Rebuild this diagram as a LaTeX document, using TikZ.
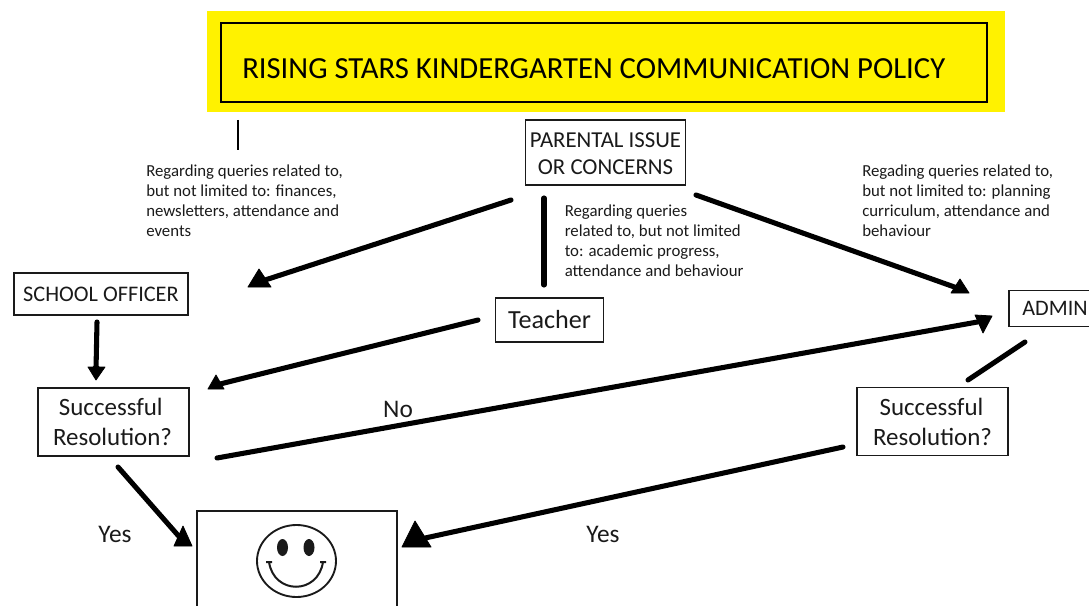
\documentclass[tikz,border=0pt]{standalone}
\usepackage{fontspec}
\setmainfont{Carlito}
\usetikzlibrary{arrows.meta}
\definecolor{banner}{HTML}{FFF200}
\definecolor{ink}{HTML}{1A1A1A}
\newcommand{\fs}[2]{\fontsize{#1}{#2}\selectfont}
\tikzset{
  x=0.75pt,y=-0.75pt,
  boxed/.style={draw=ink,line width=1.4pt,fill=white,inner sep=0pt,align=center,text=ink},
  note/.style={anchor=north west,inner sep=0pt,align=left,text=ink,font=\fs{12.6}{15}},
  lab/.style={inner sep=0pt,text=ink,font=\fs{19}{22}},
  link/.style={line width=3.8pt,line cap=round,black},
  arrowlink/.style={link,-{Triangle[length=3pt,width=5pt]}},
  head/.style={fill=black,draw=black,line width=0.6pt,line join=round}
}
\begin{document}
\begin{tikzpicture}
\useasboundingbox (0,0) rectangle (1089,606);
\clip (0,0) rectangle (1089,606);
% banner
\fill[banner] (207,11) rectangle (1005,112);
\node[draw=black,line width=1.5pt,minimum width=575pt,minimum height=59pt,inner sep=0pt] (titlebox) at (604,62.5) {};
\node[anchor=base west,inner sep=0pt,text=black,font=\fs{23}{26}] (titletext) at (242,78.5) {RISING STARS KINDERGARTEN COMMUNICATION POLICY};
% boxes
\node[boxed,minimum width=120pt,minimum height=48.5pt] (parent) at (605.5,152.5) {};
\node[inner sep=0pt,align=center,text=ink,font=\fs{17.1}{20}] (parenttext) at (605.5,154) {PARENTAL ISSUE\\OR CONCERNS};
\node[boxed,minimum width=131pt,minimum height=31pt,font=\fs{16.7}{18}] (officer) at (101,294) {\raisebox{-1pt}{SCHOOL OFFICER}};
\node[boxed,minimum width=81pt,minimum height=32.5pt,font=\fs{19.6}{22}] (teacher) at (549.5,320) {\raisebox{-0.8pt}{Teacher}};
\node[boxed,minimum width=69pt,minimum height=27pt,font=\fs{16.6}{18}] (admin) at (1055,308.5) {ADMIN};
\node[boxed,minimum width=113pt,minimum height=50.5pt,font=\fs{18.7}{22.5}] (resl) at (113.5,422) {Successful\hspace*{4pt}\\Resolution?\hspace*{1.5pt}};
\node[boxed,minimum width=113pt,minimum height=51pt,font=\fs{18.7}{22.5}] (resr) at (932.5,421.5) {Successful\hspace*{1.5pt}\\Resolution?};
\node[boxed,minimum width=150pt,minimum height=88pt] (goal) at (296.7,570) {};
% notes
\node[note] (n1) at (146,165) {Regarding queries related to,\\but not limited to: finances,\\newsletters, attendance and\\events};
\node[note] (n2) at (564.5,205) {Regarding queries\\related to, but not limited\\to: academic progress,\\attendance and behaviour};
\node[note] (n3) at (862,165) {Regading queries related to,\\but not limited to: planning\\curriculum, attendance and\\behaviour};
% edge labels
\node[lab] (lno) at (398,409) {No};
\node[lab] (lyes1) at (115,534) {Yes};
\node[lab] (lyes2) at (603,534) {Yes};
% free ends
\coordinate (stubA) at (238,120);
\coordinate (stubB) at (238,150);
\coordinate (pa) at (511,200);
\coordinate (pb) at (544,198);
\coordinate (pbe) at (544,285);
\coordinate (pc) at (696,195);
\coordinate (oa) at (97,322);
\coordinate (ta) at (478,320);
\coordinate (na) at (217,458);
\coordinate (aa) at (1025,342);
\coordinate (ab) at (968,380);
\coordinate (la) at (118,467);
\coordinate (ra) at (843,447);
\coordinate (ha) at (259,282);
\coordinate (hb) at (96,370);
\coordinate (hc) at (216,385);
\coordinate (hd) at (960,289);
\coordinate (he) at (983,321);
\coordinate (hf) at (183,541);
\coordinate (hg) at (416,540);
% connectors
\draw[black,line width=1pt] (stubA) -- (stubB);
\draw[arrowlink] (pa) -- (ha);
\draw[link] (pb) -- (pbe);
\draw[arrowlink] (pc) -- (hd);
\draw[arrowlink] (oa) -- (hb);
\draw[arrowlink] (ta) -- (hc);
\draw[arrowlink] (na) -- (he);
\draw[link] (aa) -- (ab);
\draw[arrowlink] (la) -- (hf);
\draw[arrowlink] (ra) -- (hg);
% arrowheads
\fill[head] (248,287) -- (259,269) -- (271,287) -- cycle;
\fill[head] (88,367) -- (105,367) -- (96,380) -- cycle;
\fill[head] (208,389) -- (216,375) -- (224,389) -- cycle;
\fill[head] (951,293) -- (960,279) -- (969,293) -- cycle;
\fill[head] (975,315) -- (992,316) -- (983,333) -- cycle;
\fill[head] (174,546) -- (183,526) -- (192,546) -- cycle;
\fill[head] (402,547) -- (415,521) -- (431,547) -- cycle;
% smiley
\draw[ink,line width=1.4pt] (296.5,561) ellipse [x radius=39.5,y radius=36];
\fill[ink] (282.5,547.5) ellipse [x radius=5.5,y radius=8.5];
\fill[ink] (309,547.5) ellipse [x radius=5.5,y radius=8.5];
\draw[ink,line width=1.5pt,line join=round] (266,562) -- (272,562) (320,562) -- (326,562) (269,562) .. controls (274,595) and (318,595) .. (323,562);
\end{tikzpicture}
\end{document}
